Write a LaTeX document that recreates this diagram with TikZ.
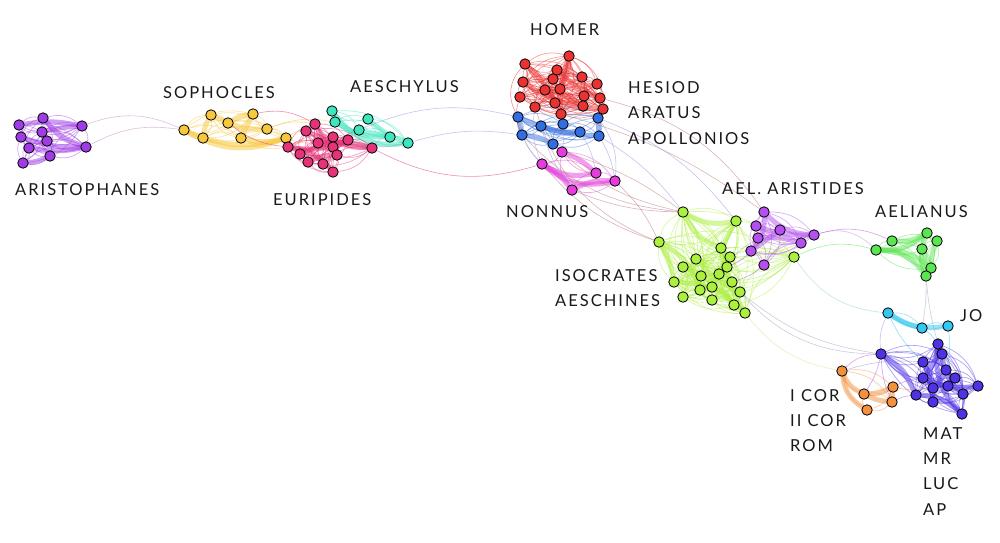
\documentclass[tikz,border=0pt]{standalone}
\usepackage{fontspec}
\setmainfont{Lato}
\newfontfamily\labfont[LetterSpace=12]{Lato}
\usetikzlibrary{backgrounds}
\pgfdeclarelayer{bg}\pgfdeclarelayer{edges}\pgfsetlayers{bg,edges,main}
\definecolor{cAr}{RGB}{160,60,230}
\definecolor{cSo}{RGB}{248,200,60}
\definecolor{cAe}{RGB}{60,230,190}
\definecolor{cEu}{RGB}{230,50,120}
\definecolor{cHo}{RGB}{235,50,50}
\definecolor{cBl}{RGB}{50,110,225}
\definecolor{cNo}{RGB}{230,60,220}
\definecolor{cIs}{RGB}{170,240,60}
\definecolor{cAa}{RGB}{180,80,240}
\definecolor{cAn}{RGB}{90,230,80}
\definecolor{cJo}{RGB}{50,200,240}
\definecolor{cMt}{RGB}{80,50,230}
\definecolor{cCo}{RGB}{245,145,60}
\definecolor{cLil}{RGB}{200,140,200}
\definecolor{cRed}{RGB}{190,120,130}
\definecolor{cLav}{RGB}{150,150,225}
\definecolor{cGry}{RGB}{160,165,190}
\definecolor{cTl}{RGB}{140,215,200}
\definecolor{cYl}{RGB}{225,225,130}
\newcommand\clusterall[3]{%
 \foreach \ia in {1,...,#2}{%
  \foreach \ja in {1,...,#2}{%
   \ifnum\ia<\ja\relax
    \pgfmathsetmacro\bb{(mod(\ia+\ja,2)*2-1)*25}%
    \draw[ie,#3] (#1\ia) to[bend left=\bb] (#1\ja);%
   \fi}}}
\newcommand\bundle[3]{\foreach \ua/\ub/\uc in {#3}{\draw[te,#2] (#1\ua) to[bend left=\uc] (#1\ub);}}
\newcommand\nodes[3]{\foreach [count=\k] \p in {#3}{\node[nd,fill=#2] (#1\k) at \p {};}}
\begin{document}
\begin{tikzpicture}[x=1pt,y=-1pt,
  nd/.style={circle,draw=black,line width=0.8pt,minimum size=10.5pt,inner sep=0pt},
  ie/.style={line width=0.7pt,opacity=0.45},
  te/.style={line width=5pt,opacity=0.5,line cap=round},
  xe/.style={line width=0.6pt,opacity=0.55},
  lab/.style={anchor=west,inner sep=0pt,font=\labfont\fontsize{16.5}{18}\selectfont,text=black!90}]
\useasboundingbox (0,0) rectangle (1000,542);
\begin{pgfonlayer}{bg}\fill[white] (0,0) rectangle (1000,542);\end{pgfonlayer}
% nodes
\nodes{ar}{cAr}{(19,125),(43,118),(82,126),(21,137),(42,132),(47,141),(29,148),(86,147),(50,156),(23,163)}
\nodes{so}{cSo}{(184,130),(211,115),(228,123),(253,114),(203,138),(241,138),(267,129),(286,138)}
\nodes{ae}{cAe}{(332,111),(335,122),(368,119),(359,130),(390,137),(408,143)}
\nodes{eu}{cEu}{(315,124),(306,131),(288,147),(300,154),(308,162),(323,164),(333,172),(318,143),(333,137),(333,147),(337,155),(348,140),(372,148)}
\nodes{ho}{cHo}{(525,64),(569,56),(557,70),(523,82),(553,79),(582,77),(597,84),(545,90),(560,89),(520,97),(584,96),(600,98),(535,107),(555,103),(583,106),(603,109),(561,114)}
\nodes{bl}{cBl}{(518,117),(598,118),(541,126),(563,124),(580,132),(522,135),(599,136),(553,144)}
\nodes{no}{cNo}{(562,152),(542,164),(596,173),(615,181),(572,190)}
\nodes{is}{cIs}{(683,212),(736,221),(659,242),(721,248),(730,257),(696,259),(683,267),(727,267),(674,282),(701,276),(719,274),(732,282),(712,287),(700,290),(740,292),(683,297),(712,300),(734,305),(745,313),(794,257)}
\nodes{aa}{cAa}{(764,212),(756,226),(780,230),(814,235),(758,238),(801,243),(751,251),(764,265)}
\nodes{an}{cAn}{(927,233),(892,241),(937,241),(876,250),(922,249),(931,268),(926,276)}
\nodes{jo}{cJo}{(888,313),(922,328),(948,326)}
\nodes{mt}{cMt}{(938,344),(881,354),(942,354),(923,362),(946,370),(923,378),(955,378),(948,386),(933,388),(978,386),(916,395),(963,394),(933,402),(962,414)}
\nodes{co}{cCo}{(842,371),(893,387),(864,394),(892,402),(867,410)}
% labels
\node[lab] (lAr) at (15,190) {ARISTOPHANES};
\node[lab] (lSo) at (163,93) {SOPHOCLES};
\node[lab] (lAe) at (350,87) {AESCHYLUS};
\node[lab] (lEu) at (273,200) {EURIPIDES};
\node[lab] (lHo) at (530,30) {HOMER};
\node[lab] (lHe) at (628,88) {HESIOD};
\node[lab] (lAt) at (628,113) {ARATUS};
\node[lab] (lAp) at (628,139) {APOLLONIOS};
\node[lab] (lNo) at (506,212) {NONNUS};
\node[lab] (lAa) at (722,189) {AEL. ARISTIDES};
\node[lab] (lAn) at (875,212) {AELIANUS};
\node[lab] (lIs) at (555,276) {ISOCRATES};
\node[lab] (lAs) at (555,301) {AESCHINES};
\node[lab] (lJo) at (960,316) {JO};
\node[lab] (lC1) at (790,396) {I COR};
\node[lab] (lC2) at (790,421) {II COR};
\node[lab] (lRo) at (790,446) {ROM};
\node[lab] (lMa) at (923,434) {MAT};
\node[lab] (lMr) at (923,459) {MR};
\node[lab] (lLu) at (923,484) {LUC};
\node[lab] (lAP) at (923,510) {AP};
% edges
\begin{pgfonlayer}{edges}
\clusterall{ar}{10}{cAr}
\clusterall{so}{8}{cSo}
\clusterall{ae}{6}{cAe}
\clusterall{eu}{13}{cEu}
\clusterall{ho}{17}{cHo}
\clusterall{bl}{8}{cBl}
\clusterall{no}{5}{cNo}
\clusterall{is}{20}{cIs}
\clusterall{aa}{8}{cAa}
\clusterall{an}{7}{cAn}
\clusterall{jo}{3}{cJo}
\clusterall{mt}{14}{cMt}
\clusterall{co}{5}{cCo}
\bundle{ar}{cAr}{1/3/10,4/8/-10,5/3/5,7/8/-10,2/8/-15,10/9/-10}
\bundle{so}{cSo}{1/5/0,5/2/10,2/3/0,3/4/10,4/6/0,6/8/-15,1/8/-25,5/8/-15,3/7/-10}
\bundle{ae}{cAe}{1/6/-30,2/5/-15,3/6/-10,4/5/0}
\bundle{eu}{cEu}{2/13/-10,3/12/-15,4/13/20,8/12/0,5/11/10,1/10/-10,3/7/20}
\bundle{ho}{cHo}{2/9/10,2/17/-10,1/14/10,4/16/-15,3/12/-10,8/15/10}
\bundle{bl}{cBl}{1/6/0,1/7/-10,2/7/0,6/8/10,3/5/-10}
\bundle{no}{cNo}{2/3/-20,2/4/-25,5/4/15,1/3/10,2/5/10}
\bundle{is}{cIs}{1/2/-20,2/4/0,3/9/10,3/14/20,4/19/-10,6/15/-10,7/18/15,9/19/20,1/4/-20}
\bundle{aa}{cAa}{1/4/-20,2/4/-10,3/7/0,5/6/10,1/7/20}
\bundle{an}{cAn}{2/1/-15,4/1/-20,4/6/20,5/6/0,3/6/-10,4/7/25,1/7/-20}
\bundle{jo}{cJo}{1/2/-10,1/3/-20}
\bundle{mt}{cMt}{1/14/-25,3/12/-20,4/13/10,2/11/15,6/10/-15,5/9/10,1/6/15,11/14/20}
\bundle{co}{cCo}{1/3/-20,1/5/-25,2/4/0,3/4/-10,3/2/-10}
% Homer / blue / Nonnus links
\draw[xe,cHo] (ho1) to[bend right=35] (bl1);
\draw[xe,cHo] (ho2) to[bend left=45] (bl2);
\draw[xe,cHo] (ho10) to[bend right=20] (bl6);
\draw[xe,cLav] (bl1) to[bend right=15] (no2);
\draw[xe,cLav] (bl6) to[bend right=10] (no2);
\draw[xe,cLav] (bl8) to[bend left=10] (no1);
\draw[xe,cLav] (bl3) to[bend right=10] (no5);
\draw[xe,cLav] (bl5) to[bend left=10] (no3);
\draw[xe,cLav] (bl7) to[bend left=10] (no4);
\draw[xe,cLav] (bl2) to[bend left=20] (no4);
\draw[xe,cLil] (ho17) to[bend left=10] (no1);
\draw[xe,cLil] (ho13) to[bend right=15] (no2);
% inter-cluster
\draw[xe,cLil] (ar3) to[bend left=22] (so1);
\draw[xe,cLil] (ar8) to[bend left=18] (so1);
\draw[xe,cSo] (so8) to[bend left=15] (eu2);
\draw[xe,cSo] (so7) to[bend left=15] (eu1);
\draw[xe,cSo] (so8) to[bend right=10] (eu8);
\draw[xe,cSo] (so6) to[bend right=20] (eu3);
\draw[xe,cSo] (so7) to[bend left=15] (ae2);
\draw[xe,cEu] (eu1) to[bend right=20] (so4);
\draw[xe,cEu] (eu3) to[bend left=15] (so3);
\draw[xe,cGry] (eu12) to[bend right=15] (ae6);
\draw[xe,cGry] (eu13) to[bend left=20] (ae5);
\draw[xe,cEu] (eu10) to[bend left=15] (ae4);
\draw[xe,cLav] (ae4) to[bend left=18] (bl1);
\draw[xe,cLav] (ae6) to[bend left=12] (bl6);
\draw[xe,cEu] (eu13) to[bend right=22] (no2);
\draw[xe,cRed] (bl6) to[bend right=20] (is1);
\draw[xe,cRed] (no2) to[bend right=15] (is3);
\draw[xe,cRed] (no5) to[bend right=10] (is1);
\draw[xe,cRed] (ho13) to[bend right=25] (is3);
\draw[xe,cRed] (no1) to[bend left=10] (is1);
\draw[xe,cRed] (bl8) to[bend right=15] (is1);
\draw[xe,cRed] (ho17) to[bend left=10] (aa1);
\draw[xe,cRed] (ho12) to[bend left=20] (aa1);
\draw[xe,cLav] (bl7) to[bend left=10] (is1);
\draw[xe,cRed] (no4) to[bend left=10] (is3);
\draw[xe,cLav] (bl2) to[bend left=15] (is2);
\draw[xe,cLil] (aa4) to[bend left=30] (an4);
\draw[xe,cAn] (is20) to[bend left=20] (an4);
\draw[xe,cAa] (aa4) to[bend left=20] (an2);
\draw[xe,cTl] (is20) to[bend right=25] (jo1);
\draw[xe,cGry] (an7) to[bend left=5] (jo2);
\draw[xe,cGry] (an7) to[bend right=5] (mt1);
\draw[xe,cYl] (is19) to[bend right=20] (co1);
\draw[xe,cGry] (is15) to[bend right=15] (mt2);
\draw[xe,cGry] (is12) to[bend right=25] (mt2);
\draw[xe,cJo] (jo1) to[bend right=10] (mt4);
\draw[xe,cJo] (jo2) to[bend left=10] (mt1);
\draw[xe,cJo] (jo3) to[bend left=10] (mt5);
\draw[xe,cLav] (jo1) to[bend right=15] (mt2);
\draw[xe,cAa] (co1) to[bend left=20] (mt2);
\draw[xe,cAa] (co2) to[bend left=10] (mt6);
\draw[xe,cAa] (co4) to[bend left=10] (mt11);
\draw[xe,cAa] (mt2) to[bend left=10] (co3);
\draw[xe,cAa] (mt2) to[bend right=10] (co4);
\draw[xe,cCo] (co2) to[bend right=10] (mt9);
\draw[xe,cLav] (co1) to[bend left=10] (mt4);
\draw[xe,cIs] (is2) to[bend left=10] (aa2);
\draw[xe,cIs] (is4) to[bend left=10] (aa7);
\draw[xe,cIs] (is5) to[bend right=10] (aa6);
\draw[xe,cIs] (is20) to[bend right=10] (aa6);
\draw[xe,cIs] (is20) to[bend left=15] (aa3);
\draw[xe,cAa] (aa7) to[bend left=10] (is8);
\draw[xe,cAa] (aa8) to[bend left=10] (is12);
\draw[xe,cGry] (aa5) to[bend right=10] (is11);
\end{pgfonlayer}
\end{tikzpicture}
\end{document}
